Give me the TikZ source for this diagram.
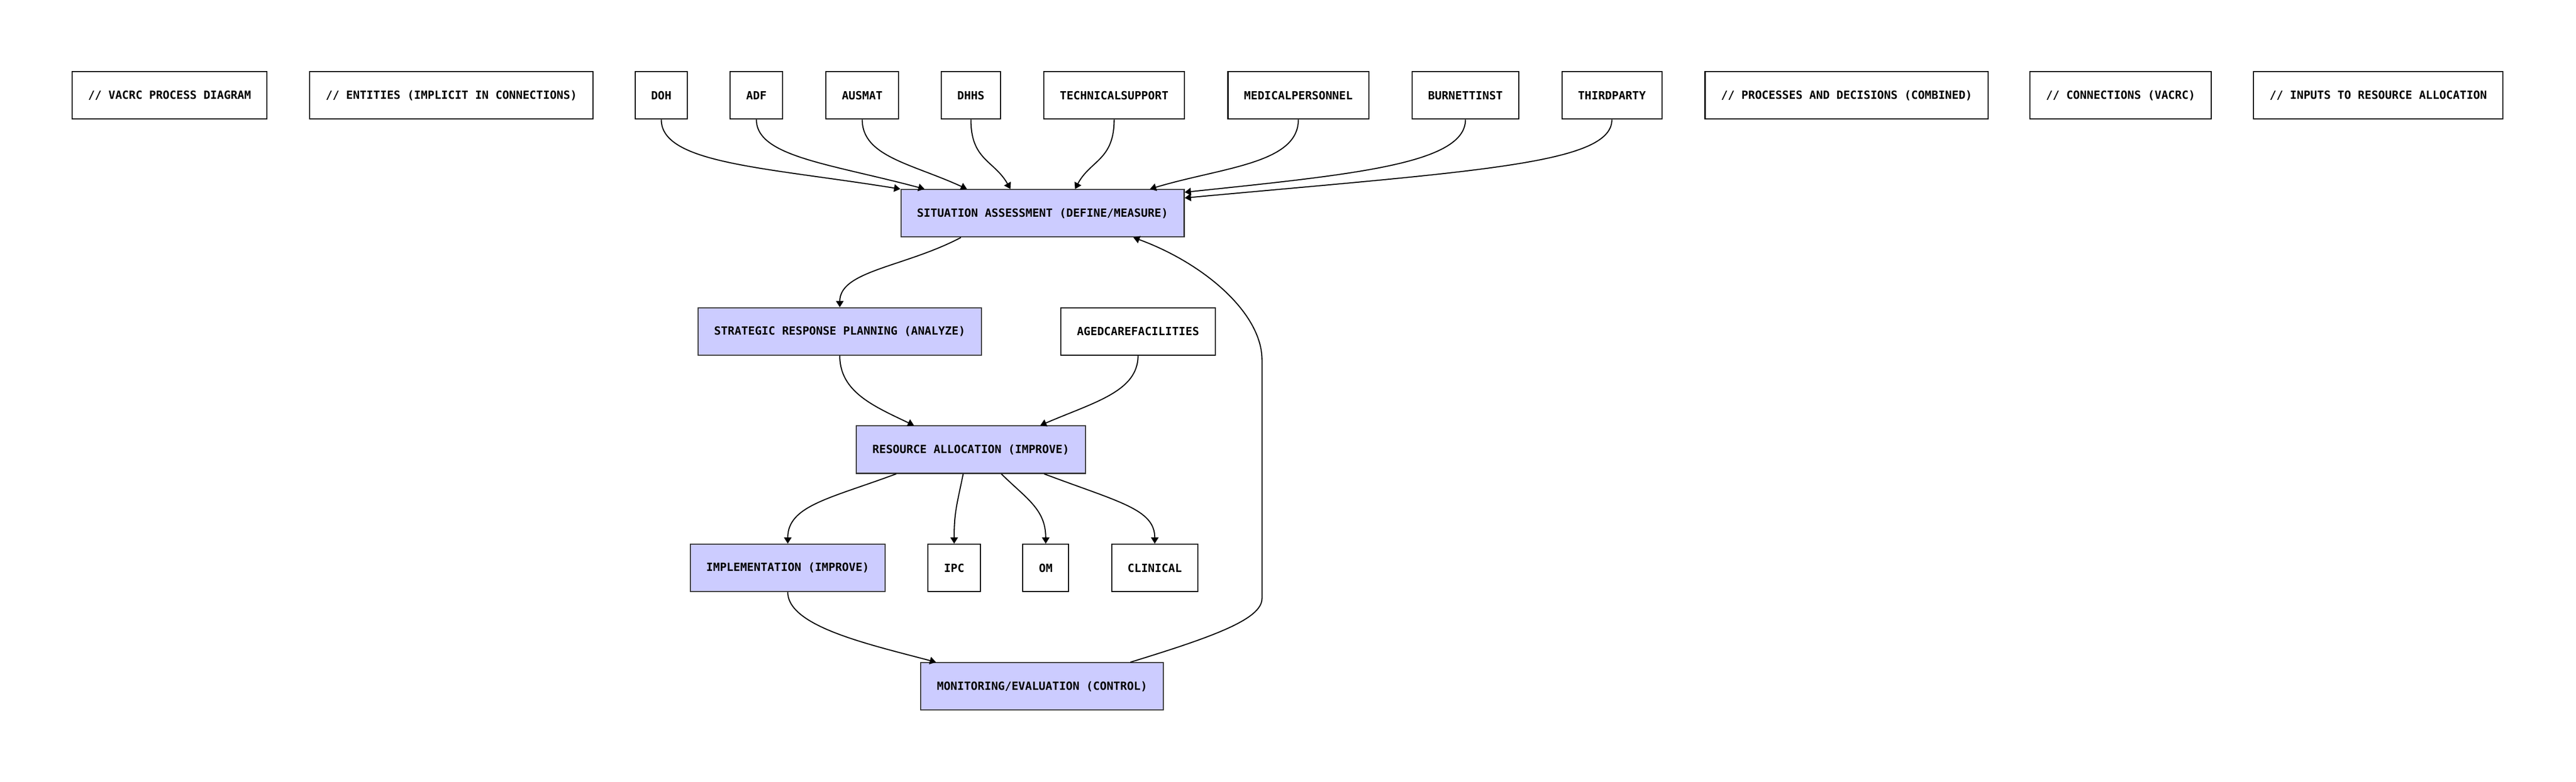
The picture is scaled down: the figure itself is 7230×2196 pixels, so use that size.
\documentclass[tikz,border=0pt]{standalone}
\usepackage{fontspec}
\usepackage{xcolor}
\usepackage{tikz}
\usetikzlibrary{arrows.meta}
\newfontfamily\diagmono{DejaVu Sans Mono}
\definecolor{procfill}{HTML}{CCCCFF}
\definecolor{procline}{HTML}{333333}

\begin{document}
\begin{tikzpicture}[x=0.01cm,y=-0.01cm,
  box/.style={draw=black,line width=0.85pt,fill=white,minimum height=1.33cm,
    inner xsep=0.45cm,font=\diagmono\bfseries\fontsize{9}{11}\selectfont},
  proc/.style={box,draw=procline,fill=procfill},
  link/.style={-{Triangle[length=5pt,width=6pt]},line width=0.85pt}]
\useasboundingbox (0,0) rectangle (7230,2196);

% Top row
\node[box] (vacrc) at (476,268) {// VACRC PROCESS DIAGRAM};
\node[box] (entities) at (1267,268) {// ENTITIES (IMPLICIT IN CONNECTIONS)};
\node[box] (doh) at (1856,268) {DOH};
\node[box] (adf) at (2123,268) {ADF};
\node[box] (ausmat) at (2420,268) {AUSMAT};
\node[box] (dhhs) at (2725,268) {DHHS};
\node[box] (techsup) at (3127,268) {TECHNICALSUPPORT};
\node[box] (medpers) at (3644,268) {MEDICALPERSONNEL};
\node[box] (burnet) at (4113,268) {BURNETTINST};
\node[box] (thirdp) at (4524,268) {THIRDPARTY};
\node[box] (procdec) at (5183,268) {// PROCESSES AND DECISIONS (COMBINED)};
\node[box] (connvac) at (5952,268) {// CONNECTIONS (VACRC)};
\node[box] (inputs) at (6675,268) {// INPUTS TO RESOURCE ALLOCATION};

% Process chain
\node[proc] (sa) at (2926,599) {SITUATION ASSESSMENT (DEFINE/MEASURE)};
\node[proc] (srp) at (2357,931) {STRATEGIC RESPONSE PLANNING (ANALYZE)};
\node[box] (aged) at (3194,931) {AGEDCAREFACILITIES};
\node[proc] (ra) at (2725,1263) {RESOURCE ALLOCATION (IMPROVE)};
\node[proc] (impl) at (2211,1595) {IMPLEMENTATION (IMPROVE)};
\node[box] (ipc) at (2678,1595) {IPC};
\node[box] (om) at (2935,1595) {OM};
\node[box] (clin) at (3241,1595) {CLINICAL};
\node[proc] (mon) at (2925,1928) {MONITORING/EVALUATION (CONTROL)};

% Entities into assessment
\draw[link] (doh.south) .. controls (1856,460) and (2150,470) .. (sa.north west);
\draw[link] (adf.south) .. controls (2123,440) and (2330,460) .. ([xshift=0.68cm]sa.north west);
\draw[link] (ausmat.south) .. controls (2420,440) and (2560,460) .. ([xshift=1.87cm]sa.north west);
\draw[link] (dhhs.south) .. controls (2725,450) and (2790,450) .. ([xshift=3.09cm]sa.north west);
\draw[link] (techsup.south) .. controls (3127,450) and (3060,450) .. ([xshift=4.9cm]sa.north west);
\draw[link] (medpers.south) .. controls (3644,460) and (3430,470) .. ([xshift=7cm]sa.north west);
\draw[link] (burnet.south) .. controls (4113,460) and (3800,490) .. ([yshift=-0.09cm]sa.north east);
\draw[link] (thirdp.south) .. controls (4524,460) and (4150,480) .. ([yshift=-0.25cm]sa.north east);

% Cycle
\draw[link] ([xshift=1.7cm]sa.south west) .. controls (2540,750) and (2357,760) .. (srp.north);
\draw[link] (srp.south) .. controls (2357,1100) and (2450,1140) .. ([xshift=1.63cm]ra.north west);
\draw[link] (aged.south) .. controls (3194,1100) and (3070,1130) .. ([xshift=5.17cm]ra.north west);
\draw[link] ([xshift=1.13cm]ra.south west) .. controls (2330,1400) and (2211,1420) .. (impl.north);
\draw[link] ([xshift=3.01cm]ra.south west) .. controls (2685,1420) and (2678,1440) .. (ipc.north);
\draw[link] ([xshift=4.08cm]ra.south west) .. controls (2880,1400) and (2935,1430) .. (om.north);
\draw[link] ([xshift=5.28cm]ra.south west) .. controls (3140,1410) and (3241,1430) .. (clin.north);
\draw[link] (impl.south) .. controls (2211,1760) and (2440,1810) .. ([xshift=0.44cm]mon.north west);

% Feedback loop
\coordinate (loopbot) at (3542,1681);
\coordinate (looptop) at (3542,1011);
\draw[link] ([xshift=5.89cm]mon.north west) .. controls (3400,1790) and (3542,1740) .. (loopbot)
  -- (looptop) .. controls (3542,880) and (3380,740) .. ([xshift=-1.44cm]sa.south east);
\end{tikzpicture}
\end{document}
